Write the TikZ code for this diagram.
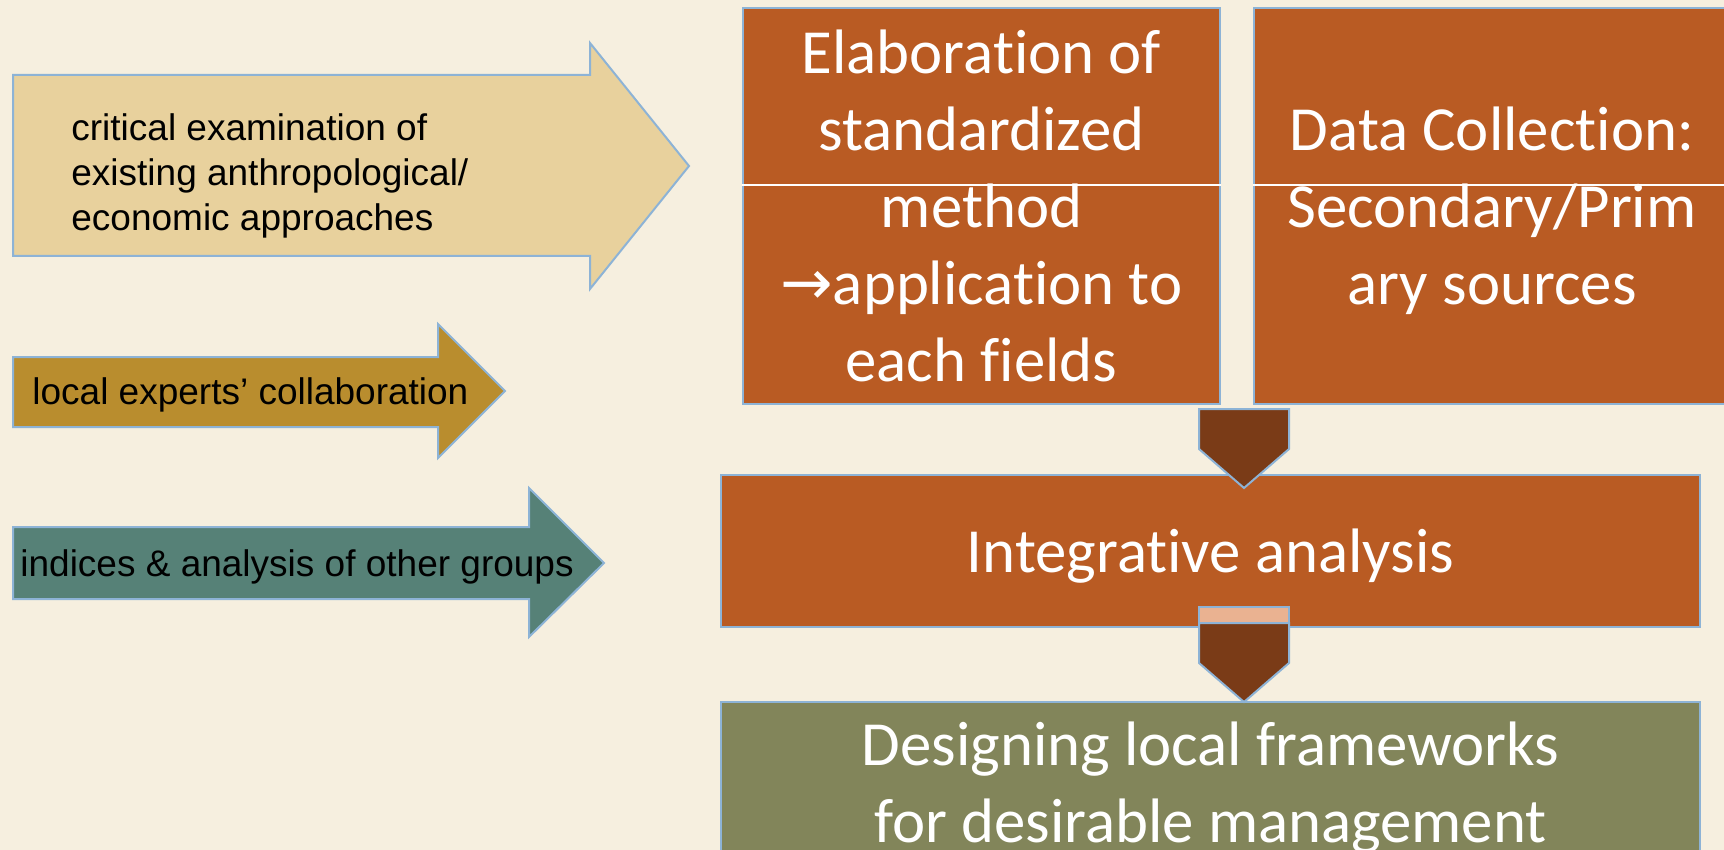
\documentclass[tikz,border=0pt]{standalone}
\usepackage{fontspec}
\setmainfont{Liberation Sans}
\newfontfamily\boxfont[Ligatures=NoCommon]{Carlito}
\newfontfamily\arrowglyph{DejaVu Sans}
\usetikzlibrary{positioning,calc}

\definecolor{paper}{RGB}{246,239,223}
\definecolor{edgeblue}{RGB}{141,179,214}
\definecolor{sand}{RGB}{232,209,157}
\definecolor{ochre}{RGB}{185,141,46}
\definecolor{sea}{RGB}{86,129,119}
\definecolor{rust}{RGB}{185,91,35}
\definecolor{umber}{RGB}{122,59,23}
\definecolor{peach}{RGB}{234,178,145}
\definecolor{moss}{RGB}{130,133,90}

\tikzstyle{block}=[rectangle, draw=edgeblue, line width=1pt, inner sep=0pt, align=center, text=white, text depth=0pt, font=\boxfont\fontsize{31.4}{38.5}\selectfont]
\tikzstyle{tall box}=[block, fill=rust, minimum width=238.5pt, minimum height=198pt]
\tikzstyle{wide box}=[block, minimum width=489.5pt]
\tikzstyle{flow arrow}=[draw=edgeblue, line width=1pt, line join=miter]
\tikzstyle{down arrow}=[flow arrow, fill=umber]
\tikzstyle{arrow text}=[anchor=west, align=left, inner sep=0pt, font=\fontsize{18.5}{22.5}\selectfont]
\tikzstyle{split line}=[white, line width=0.6pt]

\begin{document}
\begin{tikzpicture}[x=0.5pt, y=-0.5pt]
\fill[paper] (0,0) rectangle (1724,850);
\useasboundingbox (0,0) rectangle (1724,850);

% arrows on the left
\draw[flow arrow, fill=sand] (13,75) -- (590,75) -- (590,43) -- (689,166) -- (590,289) -- (590,256) -- (13,256) -- cycle;
\node[arrow text] (critical) at (71,176) {critical examination of\\existing anthropological/\\economic approaches};

\draw[flow arrow, fill=ochre] (13,357) -- (438,357) -- (438,324) -- (505,391) -- (438,458) -- (438,427) -- (13,427) -- cycle;
\node[arrow text] (experts) at (32,395) {local experts’ collaboration};

\draw[flow arrow, fill=sea] (13,527) -- (529,527) -- (529,488) -- (604,563) -- (529,637) -- (529,599) -- (13,599) -- cycle;
\node[arrow text] (indices) at (20,567) {indices \& analysis of other groups};

% boxes
\node[tall box] (elab) at (981.5,206) {Elaboration of\\standardized\\method\\{\arrowglyph →}application to\\each fields};
\draw (elab) ++(510.5,0) node[tall box] (datacoll) {Data Collection:\\Secondary/Prim\\ary sources};

\draw[split line] ([yshift=10.5pt]elab.west) -- ([yshift=10.5pt]elab.east);
\draw[split line] ([yshift=10.5pt]datacoll.west) -- ([yshift=10.5pt]datacoll.east);

\node[wide box, fill=rust, minimum height=76pt] (integ) at (1210.5,551) {Integrative analysis};
\draw (integ) ++(0,231) node[wide box, fill=moss, minimum height=80pt] (design) {Designing local frameworks\\for desirable management};

% down arrows
\coordinate (drop1) at (1244,409);
\draw[down arrow] (drop1) ++(-45,0) -- ++(90,0) -- ++(0,40) -- ++(-45,39) -- ++(-45,-39) -- cycle;

\coordinate (drop2) at (1244,607);
\draw[flow arrow, fill=peach] (drop2) ++(-45,0) rectangle ++(90,16);
\draw[down arrow] (drop2) ++(-45,16) -- ++(90,0) -- ++(0,40) -- ++(-45,39) -- ++(-45,-39) -- cycle;

\end{tikzpicture}
\end{document}
